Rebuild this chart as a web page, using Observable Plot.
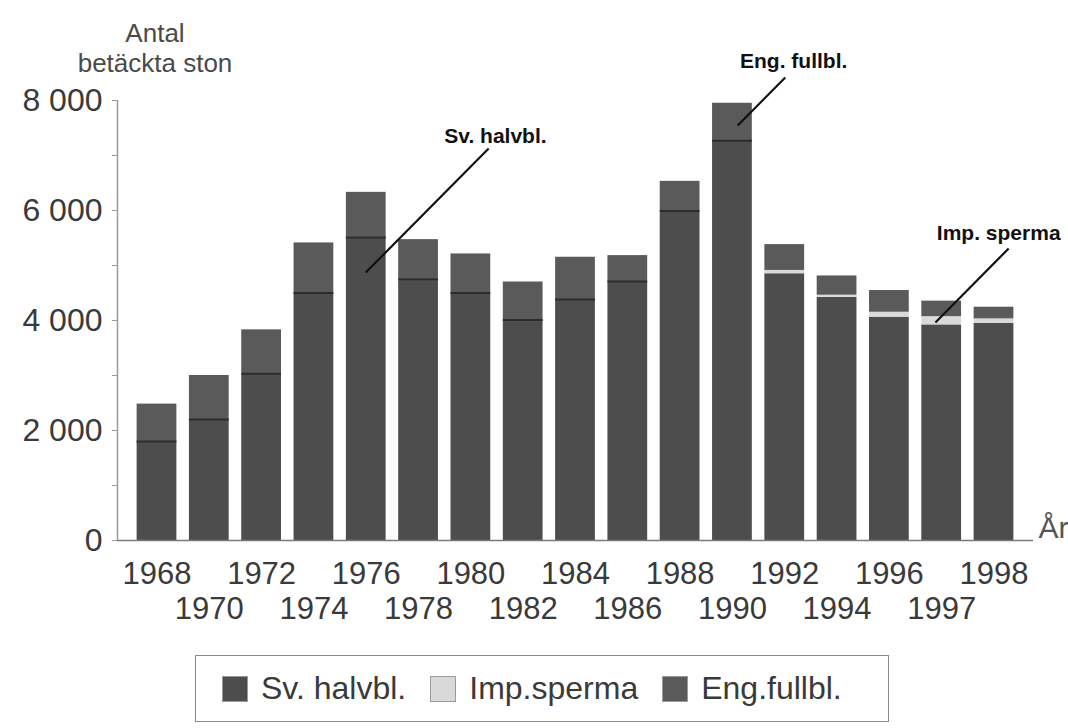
<!DOCTYPE html>
<html>
<head>
<meta charset="utf-8">
<script src="https://cdn.jsdelivr.net/npm/d3@7"></script>
<script src="https://cdn.jsdelivr.net/npm/@observablehq/plot@0.6"></script>
<style>
  html, body { margin: 0; padding: 0; background: #ffffff; }
  #wrap { position: relative; width: 1068px; height: 728px; font-family: "Liberation Sans", Arial, sans-serif; color: #3a3a3a; }
  #title { position: absolute; left: 55px; top: 18px; width: 200px; text-align: center; font-size: 26px; line-height: 30px; color: #4a4a4a; }
  #chart { position: absolute; left: 0; top: 0; }
  #legend { position: absolute; left: 195px; top: 655px; width: 694px; height: 67px; box-sizing: border-box;
            border: 1.5px solid #8c8c8c; display: flex; align-items: center; padding-left: 26px; font-size: 32px; color: #3a3a3a; }
  .item { display: flex; align-items: center; margin-right: 24px; }
  .sw { width: 26px; height: 26px; box-sizing: border-box; margin-right: 13px; border: 1px solid #9a9a9a; }
</style>
</head>
<body>
<div id="wrap">
  <div id="chart"></div>
  <div id="title">Antal<br>betäckta ston</div>
  <div id="legend"></div>
</div>
<script>
// ---- data ----
const years  = [1968, 1970, 1972, 1974, 1976, 1978, 1980, 1982, 1984, 1986, 1988, 1990, 1992, 1994, 1996, 1997, 1998];
const svHalvbl = [1800, 2200, 3030, 4500, 5510, 4750, 4500, 4010, 4380, 4710, 5990, 7270, 4850, 4420, 4060, 3920, 3950];
const impSperma = [0, 0, 0, 0, 0, 0, 0, 0, 0, 0, 0, 0, 60, 40, 90, 150, 80];
const totals = [2480, 3000, 3830, 5410, 6330, 5470, 5210, 4700, 5150, 5180, 6530, 7950, 5380, 4810, 4545, 4352, 4242];
const seriesNames = ["Sv. halvbl.", "Imp.sperma", "Eng.fullbl."];
const seriesColors = ["#4d4d4d", "#d9d9d9", "#5a5a5a"];
const yTickValues = [0, 2000, 4000, 6000, 8000];
const yMinorTicks = [0, 1000, 2000, 3000, 4000, 5000, 6000, 7000, 8000];
const xAxisLabel = "År";
// annotations (label position and pointer line in data units: year index, value)
const annText   = ["Sv. halvbl.", "Eng. fullbl.", "Imp. sperma"];
const annLabelX = [6.47, 12.17, 16.09];
const annLabelY = [7236, 8600, 5455];
const annFromX  = [6.34, 12.01, 16.28];
const annFromY  = [7127, 8418, 5309];
const annToX    = [3.99, 11.10, 14.88];
const annToY    = [4873, 7545, 3964];

// ---- build tables ----
const rows = [];
years.forEach((yr, i) => {
  const s = svHalvbl[i], m = impSperma[i], t = totals[i];
  rows.push({i, series: seriesNames[0], y1: 0, y2: s});
  if (m > 0) rows.push({i, series: seriesNames[1], y1: s, y2: s + m});
  rows.push({i, series: seriesNames[2], y1: s + m, y2: t});
});
const dividers = years.map((yr, i) => ({i, v: svHalvbl[i], imp: impSperma[i]})).filter(d => d.imp === 0);
const ann = annText.map((t, k) => ({t, lx: annLabelX[k], ly: annLabelY[k], fx: annFromX[k], fy: annFromY[k], tx: annToX[k], ty: annToY[k]}));
const idx = years.map((d, i) => i);
const row1 = idx.filter(i => i % 2 === 0);
const row2 = idx.filter(i => i % 2 === 1);

const hw = 0.38;           // half bar width in index units
const xMin = -0.755, xMax = years.length - 1 + 0.755;
const fmt = d => d3.format(",")(d).replace(/,/g, " ");

const chart = Plot.plot({
  width: 1068,
  height: 650,
  marginLeft: 117,
  marginRight: 35,
  marginTop: 100,
  marginBottom: 110,
  style: {fontFamily: "'Liberation Sans', Arial, sans-serif", background: "transparent", color: "#3a3a3a", overflow: "visible"},
  x: {type: "linear", domain: [xMin, xMax], axis: null},
  y: {domain: [0, 8000], axis: null},
  color: {domain: seriesNames, range: seriesColors},
  marks: [
    Plot.rect(rows, {x1: d => d.i - hw, x2: d => d.i + hw, y1: "y1", y2: "y2", fill: "series"}),
    Plot.ruleY(dividers, {y: "v", x1: d => d.i - hw, x2: d => d.i + hw, stroke: "#2c2c2c", strokeWidth: 2}),
    Plot.ruleY([0], {stroke: "#7a7a7a", strokeWidth: 1.5}),
    Plot.ruleX([xMin], {y1: 0, y2: 8000, stroke: "#9a9a9a", strokeWidth: 1.5}),
    Plot.axisY({ticks: yMinorTicks, tickSize: 5, tickFormat: () => "", stroke: "#9a9a9a"}),
    Plot.axisY({ticks: yTickValues, tickSize: 0, tickPadding: 15, tickFormat: fmt, fontSize: 32, fill: "#3a3a3a", label: null}),
    Plot.axisX({ticks: row1, tickSize: 0, tickPadding: 21, tickFormat: i => String(years[i]), fontSize: 31, fill: "#3a3a3a", label: null}),
    Plot.axisX({ticks: row2, tickSize: 0, tickPadding: 56, tickFormat: i => String(years[i]), fontSize: 31, fill: "#3a3a3a", label: null}),
    Plot.text([xAxisLabel], {frameAnchor: "bottom-right", textAnchor: "start", lineAnchor: "bottom", dx: 5, dy: -3, fontSize: 30, fill: "#555"}),
    Plot.link(ann, {x1: "fx", y1: "fy", x2: "tx", y2: "ty", stroke: "#111", strokeWidth: 2.2}),
    Plot.text(ann, {x: "lx", y: "ly", text: "t", lineAnchor: "bottom", fontSize: 21, fontWeight: "bold", fill: "#111"})
  ]
});
document.getElementById("chart").appendChild(chart);

// legend
const lg = document.getElementById("legend");
seriesNames.forEach((name, k) => {
  const it = document.createElement("div");
  it.className = "item";
  const sw = document.createElement("div");
  sw.className = "sw";
  sw.style.background = seriesColors[k];
  const tx = document.createElement("span");
  tx.textContent = name;
  it.appendChild(sw); it.appendChild(tx);
  lg.appendChild(it);
});
</script>
</body>
</html>
